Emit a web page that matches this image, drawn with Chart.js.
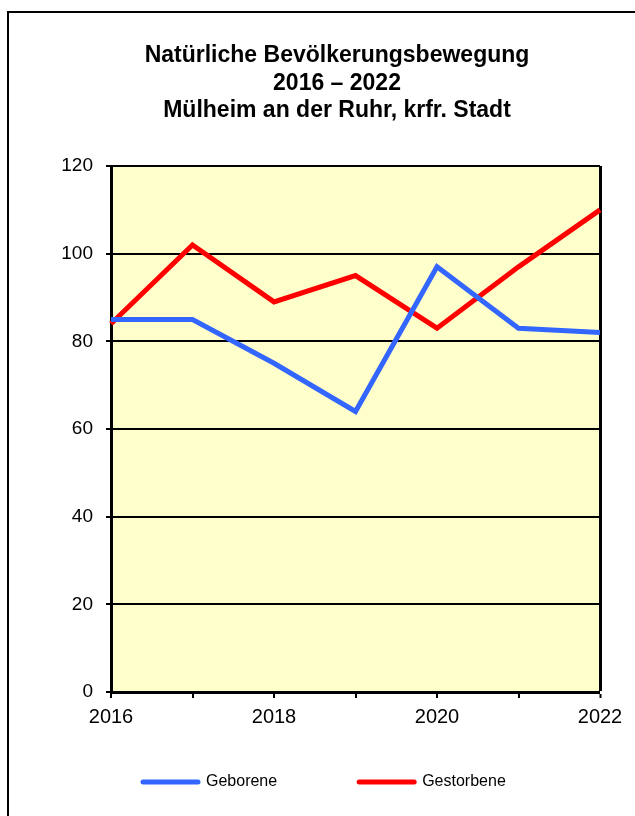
<!DOCTYPE html>
<html>

<head>
    <meta charset="UTF-8">
    <title>Natürliche Bevölkerungsbewegung</title>
    <style>
        html, body { margin: 0; padding: 0; background: #fff; overflow: hidden; }
        #frame { position: absolute; left: 7px; top: 11px; width: 700px; height: 900px; border: 2px solid #000; }
        #wrap { position: absolute; left: 0; top: 0; width: 635px; height: 816px; }
    </style>
</head>

<body>
    <div id="frame"></div>
    <div id="wrap"><canvas id="chart" width="635" height="816"></canvas></div>
    <script src="https://cdn.jsdelivr.net/npm/chart.js"></script>
    <script>
        const years = ['2016', '2017', '2018', '2019', '2020', '2021', '2022'];
        const shownYears = ['2016', '2018', '2020', '2022'];
        const geborene = [85, 85, 75, 64, 97, 83, 82];
        const gestorbene = [84, 102, 89, 95, 83, 97, 110];
        const titleLines = ['Natürliche Bevölkerungsbewegung', '2016 – 2022', 'Mülheim an der Ruhr, krfr. Stadt'];

        Chart.defaults.font.family = "'Liberation Sans', Arial, sans-serif";
        Chart.defaults.color = '#000';

        // gelber Hintergrund der Zeichenfläche
        const plotBg = {
            id: 'plotBg',
            beforeDraw(chart) {
                const { ctx, chartArea: a } = chart;
                ctx.save();
                ctx.fillStyle = '#ffffcc';
                ctx.fillRect(a.left, a.top, a.right - a.left, a.bottom - a.top);
                ctx.restore();
            }
        };

        // x-Achse hat im Layout keine Höhe (Legende rückt nach oben), Beschriftung soll trotzdem sichtbar sein
        const xLabelRoom = {
            id: 'xLabelRoom',
            afterLayout(chart) {
                const x = chart.scales.x;
                x.bottom = x.top + 45;
                x.height = 45;
            }
        };

        const ctx = document.getElementById('chart').getContext('2d');
        new Chart(ctx, {
            type: 'line',
            data: {
                labels: years,
                datasets: [
                    {
                        label: 'Geborene',
                        data: geborene,
                        borderColor: '#3366ff',
                        backgroundColor: '#3366ff',
                        borderWidth: 5,
                        pointRadius: 0,
                        tension: 0,
                    },
                    {
                        label: 'Gestorbene',
                        data: gestorbene,
                        borderColor: '#ff0000',
                        backgroundColor: '#ff0000',
                        borderWidth: 5,
                        pointRadius: 0,
                        tension: 0,
                    },
                ],
            },
            options: {
                responsive: false,
                animation: false,
                layout: { padding: { left: 61, right: 22, top: 0, bottom: 16 } },
                plugins: {
                    title: {
                        display: true,
                        text: titleLines,
                        font: { size: 23, weight: 'bold', lineHeight: 1.196 },
                        padding: { top: 42, bottom: 41.5 },
                    },
                    legend: {
                        position: 'bottom',
                        align: 'start',
                        labels: {
                            usePointStyle: true,
                            pointStyle: 'line',
                            pointStyleWidth: 55,
                            padding: 82,
                            font: { size: 16 },
                            generateLabels: (chart) => Chart.defaults.plugins.legend.labels.generateLabels(chart)
                                .map((l) => ({ ...l, lineCap: 'round' })),
                        },
                    },
                    tooltip: { enabled: false },
                },
                scales: {
                    x: {
                        offset: false,
                        afterFit: (s) => { s.height = 0; },
                        border: { display: true, color: '#000', width: 3 },
                        grid: {
                            drawOnChartArea: true,
                            color: (c) => c.index === years.length - 1 ? '#000' : 'rgba(0,0,0,0)',
                            lineWidth: (c) => c.index === years.length - 1 ? 3 : 0,
                            tickColor: '#000',
                            tickWidth: 2,
                            tickLength: 6,
                        },
                        ticks: {
                            autoSkip: false,
                            maxRotation: 0,
                            padding: 7,
                            font: { size: 20 },
                            callback: function (v) {
                                const lab = this.getLabelForValue(v);
                                return shownYears.includes(lab) ? lab : '';
                            },
                        },
                    },
                    y: {
                        min: 0,
                        max: 120,
                        afterFit: (s) => { s.width = 50; },
                        border: { display: true, color: '#000', width: 3 },
                        grid: { color: '#000', lineWidth: 2, tickLength: 5 },
                        ticks: { stepSize: 20, padding: 13, font: { size: 19 } },
                    },
                    y2: {
                        position: 'right',
                        display: true,
                        afterFit: (s) => { s.width = 13; },
                        border: { display: false },
                        grid: { display: false },
                        ticks: { display: false },
                    },
                },
            },
            plugins: [plotBg, xLabelRoom],
        });
    </script>
</body>

</html>
